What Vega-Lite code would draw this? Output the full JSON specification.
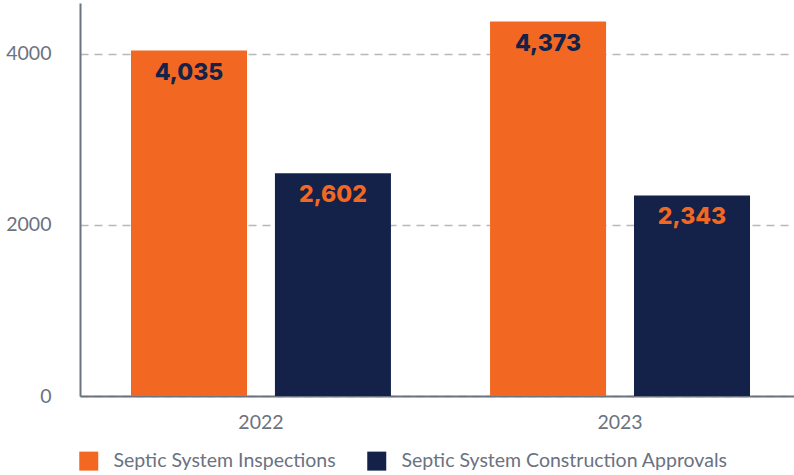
{
  "$schema": "https://vega.github.io/schema/vega-lite/v6.json",
  "width": 721,
  "height": 393,
  "padding": {"left": 5, "top": 3, "right": 0, "bottom": 0},
  "background": "white",
  "data": {"values": [
    {"year": "2022", "series": "Septic System Inspections", "value": 4035},
    {"year": "2022", "series": "Septic System Construction Approvals", "value": 2602},
    {"year": "2023", "series": "Septic System Inspections", "value": 4373},
    {"year": "2023", "series": "Septic System Construction Approvals", "value": 2343}
  ]},
  "config": {
    "view": {"stroke": null},
    "font": "Lato"
  },
  "encoding": {
    "x": {"field": "year", "type": "nominal", "scale": {"paddingInner": 0.276, "paddingOuter": 0.142},
      "axis": {"title": null, "labelAngle": 0, "labelFont": "Lato", "labelFontSize": 19.5, "labelColor": "#6b7280", "labelPadding": 17, "ticks": false, "domainColor": "#6b7280", "domainWidth": 2, "grid": false}},
    "xOffset": {"field": "series", "type": "nominal", "sort": ["Septic System Inspections", "Septic System Construction Approvals"], "scale": {"paddingInner": 0.194, "paddingOuter": 0}},
    "y": {"field": "value", "type": "quantitative", "scale": {"domain": [0, 4590], "nice": false},
      "axis": {"title": null, "values": [0, 2000, 4000], "format": "d", "labelFont": "Lato", "labelFontSize": 19.5, "labelColor": "#6b7280", "labelPadding": 29, "ticks": false, "domainColor": "#6b7280", "domainWidth": 2, "gridColor": "#b8b8b8", "gridDash": [8, 6], "gridWidth": 1.5, "minExtent": 74, "maxExtent": 74}}
  },
  "layer": [
    {
      "mark": {"type": "bar"},
      "encoding": {
        "color": {"field": "series", "type": "nominal",
          "sort": ["Septic System Inspections", "Septic System Construction Approvals"],
          "scale": {"domain": ["Septic System Inspections", "Septic System Construction Approvals"], "range": ["#F26823", "#142148"]},
          "legend": {"title": null, "orient": "none", "legendX": -1, "legendY": 448, "direction": "horizontal", "symbolType": "square", "symbolSize": 361, "symbolStrokeWidth": 0, "labelFont": "Lato", "labelFontSize": 19.5, "labelColor": "#6b7280", "labelOffset": 15, "columnPadding": 31, "labelLimit": 400}}
      }
    },
    {
      "mark": {"type": "text", "baseline": "middle", "dy": 22, "font": "Inter", "fontWeight": 800, "fontSize": 23},
      "encoding": {
        "text": {"field": "value", "type": "quantitative", "format": ","},
        "color": {"condition": {"test": "datum.series === 'Septic System Inspections'", "value": "#142148"}, "value": "#F26823"}
      }
    }
  ]
}
